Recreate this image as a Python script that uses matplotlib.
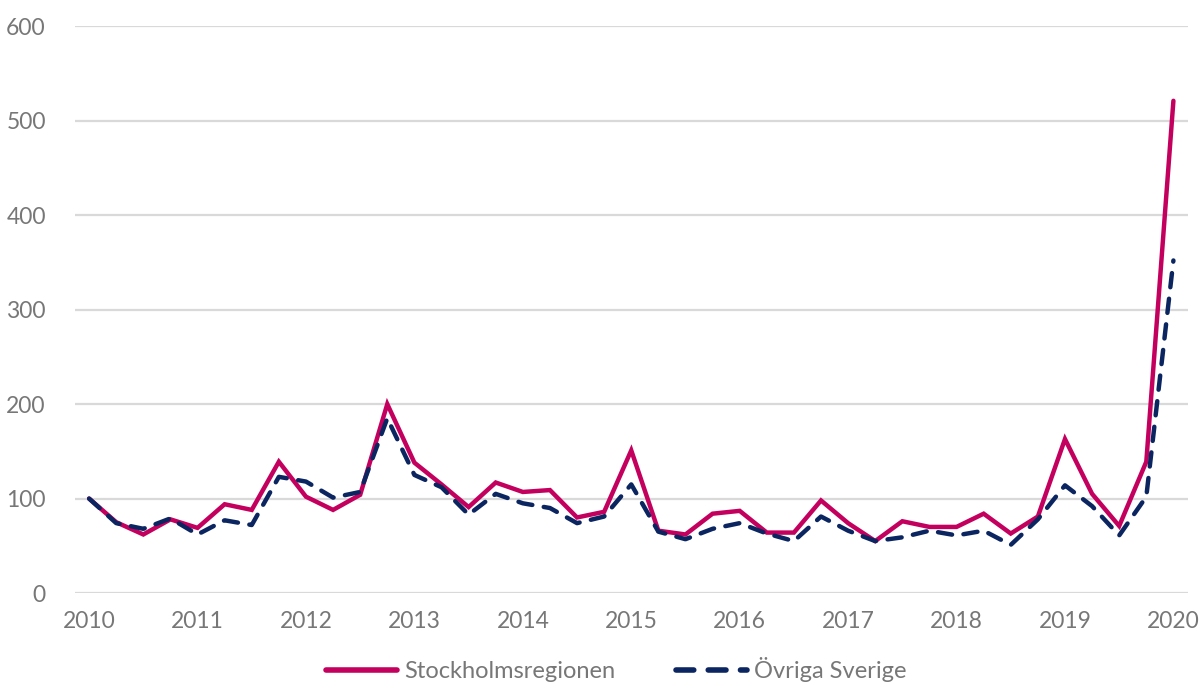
import numpy as np
import matplotlib
matplotlib.use('Agg')
import matplotlib.pyplot as plt

# Kvartalsdata 2010 K1 - 2020 K1 (index, 2010 K1 = 100)
stockholm = [100, 75, 62, 78, 69, 94, 88, 139, 102, 88, 104, 200, 138,
             115, 91, 117, 107, 109, 80, 86, 151, 66, 62, 84, 87, 64,
             64, 98, 74, 55, 76, 70, 70, 84, 63, 81, 163, 105, 71, 139, 521]
ovriga = [100, 74, 68, 79, 62, 77, 72, 123, 118, 101, 107, 185, 125,
          112, 83, 105, 95, 90, 74, 81, 115, 65, 57, 68, 74, 63,
          55, 81, 66, 55, 59, 66, 61, 66, 51, 78, 114, 92, 61, 102, 352]
ar = list(range(2010, 2021))
yticks = [0, 100, 200, 300, 400, 500, 600]

x = 2010 + np.arange(len(stockholm)) / 4

plt.rcParams['font.family'] = ['Lato', 'DejaVu Sans']
fig = plt.figure(figsize=(12.04, 6.88), dpi=100)
ax = fig.add_axes([0.0623, 0.138, 0.924, 0.824])

ax.plot(x, stockholm, color='#C4005F', lw=3.2, solid_capstyle='round',
        solid_joinstyle='miter', label='Stockholmsregionen', zorder=3)
ax.plot(x, ovriga, color='#0B2561', lw=3.2, dashes=(3.2, 2.6),
        dash_capstyle='round', label='Övriga Sverige', zorder=4)

ax.set_xlim(2010 - 0.13, 2020 + 0.13)
ax.set_ylim(0, 600)
ax.set_yticks(yticks)
ax.set_xticks(ar)
ax.set_xticklabels([str(a) for a in ar])
ax.grid(axis='y', color='#D9D9D9', lw=1.6, zorder=0)
ax.set_axisbelow(True)
for s in ax.spines.values():
    s.set_visible(False)
ax.tick_params(axis='both', length=0, labelsize=16.5, colors='#777777')
ax.tick_params(axis='y', pad=21)
ax.tick_params(axis='x', pad=13)

leg = fig.legend(loc='lower center', bbox_to_anchor=(0.512, -0.022), ncol=2,
                 frameon=False, fontsize=17, labelcolor='#777777',
                 handlelength=3.0, columnspacing=2.6, handletextpad=0.3)
for h in leg.get_lines():
    h.set_linewidth(4)

fig.savefig('out.png', dpi=100)
